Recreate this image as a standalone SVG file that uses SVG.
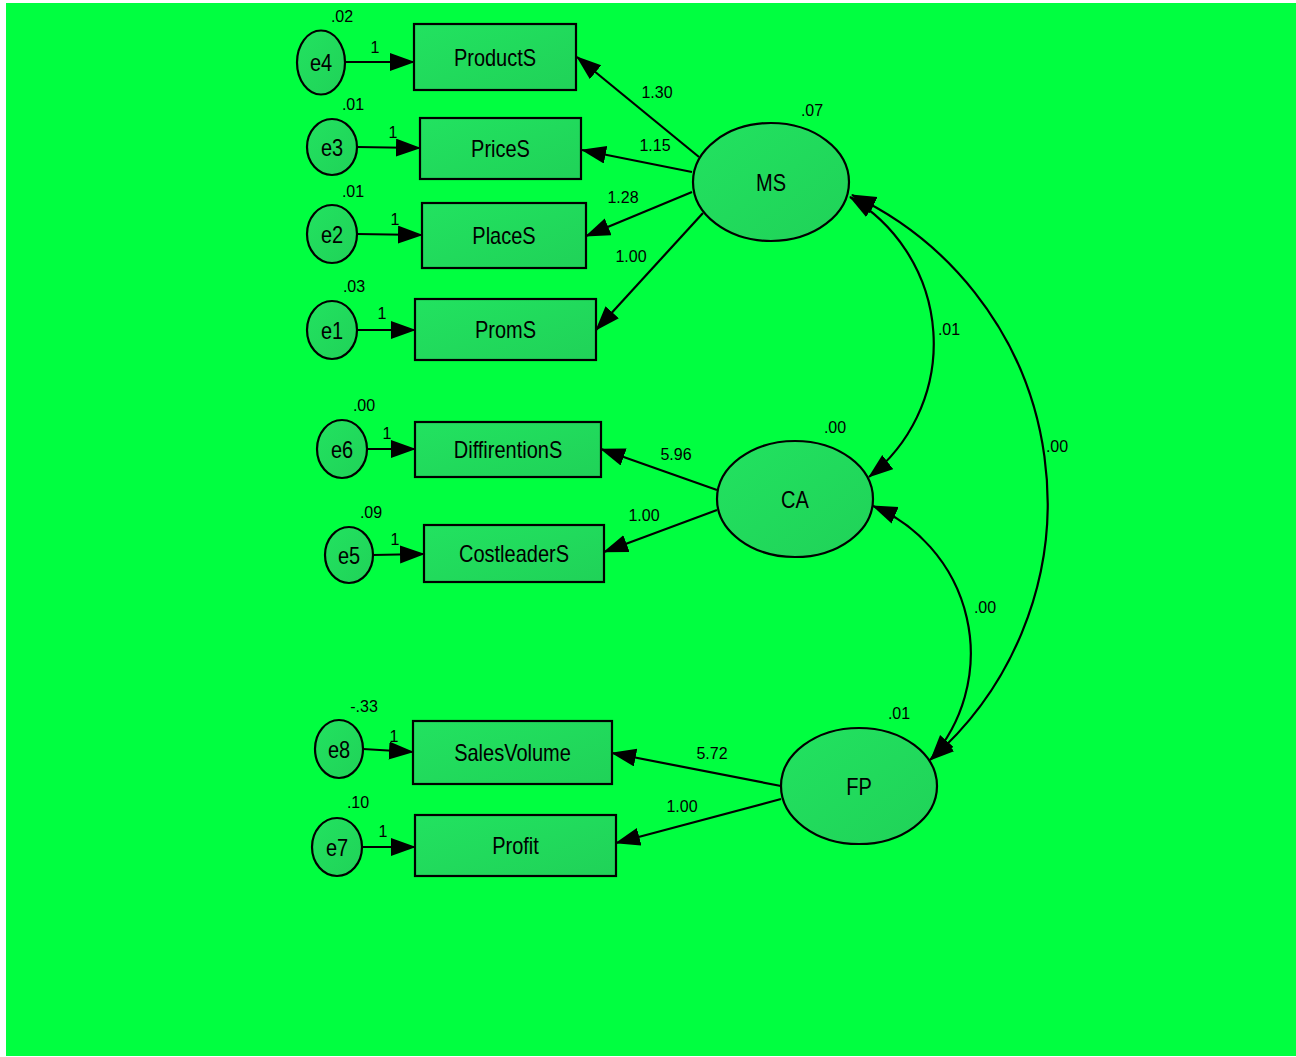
<svg xmlns="http://www.w3.org/2000/svg" width="1296" height="1057" viewBox="0 0 1296 1057">
<defs>
<linearGradient id="nf" x1="0" y1="0" x2="1" y2="1">
<stop offset="0" stop-color="#22E260"/>
<stop offset="1" stop-color="#20D258"/>
</linearGradient>
<marker id="ah" markerUnits="userSpaceOnUse" markerWidth="26" markerHeight="20" refX="24" refY="9" orient="auto-start-reverse">
<path d="M0,0 L25,9 L0,18 z" fill="#000"/>
</marker>
<style>
.n{fill:url(#nf);stroke:#000;stroke-width:2.2}
.t{font-family:"Liberation Sans",Arial,sans-serif;font-size:20px;fill:#000;text-anchor:middle}
.s{font-family:"Liberation Sans",Arial,sans-serif;font-size:16px;fill:#000;text-anchor:middle}
.c{fill:none;stroke:#000;stroke-width:2.2}
</style>
</defs>
<rect x="0" y="0" width="1296" height="1057" fill="#fff"/>
<rect x="6" y="3" width="1290" height="1053" fill="#00FF40"/>

<g id="connectors">
<line class="c" x1="345" y1="62" x2="414" y2="62" marker-end="url(#ah)"/>
<line class="c" x1="357" y1="147" x2="420" y2="148" marker-end="url(#ah)"/>
<line class="c" x1="357" y1="234" x2="422" y2="235" marker-end="url(#ah)"/>
<line class="c" x1="357" y1="330" x2="415" y2="330" marker-end="url(#ah)"/>
<line class="c" x1="367" y1="449" x2="415" y2="449" marker-end="url(#ah)"/>
<line class="c" x1="373" y1="555" x2="424" y2="554" marker-end="url(#ah)"/>
<line class="c" x1="363" y1="749" x2="413" y2="752" marker-end="url(#ah)"/>
<line class="c" x1="362" y1="847" x2="415" y2="847" marker-end="url(#ah)"/>

<line class="c" x1="699" y1="157" x2="577" y2="57" marker-end="url(#ah)"/>
<line class="c" x1="692" y1="172" x2="582" y2="150" marker-end="url(#ah)"/>
<line class="c" x1="692" y1="192" x2="586" y2="236" marker-end="url(#ah)"/>
<line class="c" x1="703" y1="213" x2="596" y2="330" marker-end="url(#ah)"/>

<line class="c" x1="717" y1="490" x2="601" y2="449" marker-end="url(#ah)"/>
<line class="c" x1="717" y1="510" x2="604" y2="552" marker-end="url(#ah)"/>

<line class="c" x1="781" y1="786" x2="612" y2="753" marker-end="url(#ah)"/>
<line class="c" x1="781" y1="799" x2="616" y2="843" marker-end="url(#ah)"/>

<path class="c" d="M850,197 A170,170 0 0 1 869,477" marker-start="url(#ah)" marker-end="url(#ah)"/>
<path class="c" d="M852,195 A340,340 0 0 1 930,760" marker-start="url(#ah)" marker-end="url(#ah)"/>
<path class="c" d="M873,506 A160,160 0 0 1 931,759" marker-start="url(#ah)" marker-end="url(#ah)"/>

<text class="s" x="375" y="53">1</text>
<text class="s" x="393" y="138">1</text>
<text class="s" x="395" y="225">1</text>
<text class="s" x="382" y="319">1</text>
<text class="s" x="387" y="439">1</text>
<text class="s" x="395" y="545">1</text>
<text class="s" x="394" y="742">1</text>
<text class="s" x="383" y="837">1</text>
<text class="s" x="657" y="98">1.30</text>
<text class="s" x="655" y="151">1.15</text>
<text class="s" x="623" y="203">1.28</text>
<text class="s" x="631" y="262">1.00</text>
<text class="s" x="676" y="460">5.96</text>
<text class="s" x="644" y="521">1.00</text>
<text class="s" x="712" y="759">5.72</text>
<text class="s" x="682" y="812">1.00</text>
<text class="s" x="949" y="335">.01</text>
<text class="s" x="1057" y="452">.00</text>
<text class="s" x="985" y="613">.00</text>
</g>

<g id="e4"><ellipse class="n" cx="321" cy="62.5" rx="24" ry="32"/><text class="t" transform="translate(321,71) scale(1,1.2)">e4</text><text class="s" x="342" y="22">.02</text></g>
<g id="e3"><ellipse class="n" cx="332" cy="147" rx="25" ry="28"/><text class="t" transform="translate(332,155.5) scale(1,1.2)">e3</text><text class="s" x="353" y="110">.01</text></g>
<g id="e2"><ellipse class="n" cx="332" cy="234" rx="25" ry="29"/><text class="t" transform="translate(332,242.5) scale(1,1.2)">e2</text><text class="s" x="353" y="197">.01</text></g>
<g id="e1"><ellipse class="n" cx="332" cy="330" rx="25" ry="29"/><text class="t" transform="translate(332,338.5) scale(1,1.2)">e1</text><text class="s" x="354" y="292">.03</text></g>
<g id="e6"><ellipse class="n" cx="342" cy="449" rx="25" ry="29"/><text class="t" transform="translate(342,457.5) scale(1,1.2)">e6</text><text class="s" x="364" y="411">.00</text></g>
<g id="e5"><ellipse class="n" cx="349" cy="555" rx="24" ry="28"/><text class="t" transform="translate(349,563.5) scale(1,1.2)">e5</text><text class="s" x="371" y="518">.09</text></g>
<g id="e8"><ellipse class="n" cx="339" cy="749" rx="24" ry="29"/><text class="t" transform="translate(339,757.5) scale(1,1.2)">e8</text><text class="s" x="364" y="712">-.33</text></g>
<g id="e7"><ellipse class="n" cx="337" cy="847" rx="25" ry="29"/><text class="t" transform="translate(337,855.5) scale(1,1.2)">e7</text><text class="s" x="358" y="808">.10</text></g>

<g id="ProductS"><rect class="n" x="414" y="24" width="162" height="66"/><text class="t" transform="translate(495,65.5) scale(1,1.2)">ProductS</text></g>
<g id="PriceS"><rect class="n" x="420" y="118" width="161" height="61"/><text class="t" transform="translate(500.5,157) scale(1,1.2)">PriceS</text></g>
<g id="PlaceS"><rect class="n" x="422" y="203" width="164" height="65"/><text class="t" transform="translate(504,244) scale(1,1.2)">PlaceS</text></g>
<g id="PromS"><rect class="n" x="415" y="299" width="181" height="61"/><text class="t" transform="translate(505.5,338) scale(1,1.2)">PromS</text></g>
<g id="DiffirentionS"><rect class="n" x="415" y="422" width="186" height="55"/><text class="t" transform="translate(508,458) scale(1,1.2)">DiffirentionS</text></g>
<g id="CostleaderS"><rect class="n" x="424" y="525" width="180" height="57"/><text class="t" transform="translate(514,562) scale(1,1.2)">CostleaderS</text></g>
<g id="SalesVolume"><rect class="n" x="413" y="721" width="199" height="63"/><text class="t" transform="translate(512.5,761) scale(1,1.2)">SalesVolume</text></g>
<g id="Profit"><rect class="n" x="415" y="815" width="201" height="61"/><text class="t" transform="translate(515.5,854) scale(1,1.2)">Profit</text></g>

<g id="MS"><ellipse class="n" cx="771" cy="182" rx="78" ry="59"/><text class="t" transform="translate(771,190.5) scale(1,1.2)">MS</text><text class="s" x="812" y="116">.07</text></g>
<g id="CA"><ellipse class="n" cx="795" cy="499" rx="78" ry="58"/><text class="t" transform="translate(795,508) scale(1,1.2)">CA</text><text class="s" x="835" y="433">.00</text></g>
<g id="FP"><ellipse class="n" cx="859" cy="786" rx="78" ry="58"/><text class="t" transform="translate(859,794.5) scale(1,1.2)">FP</text><text class="s" x="899" y="719">.01</text></g>
</svg>
